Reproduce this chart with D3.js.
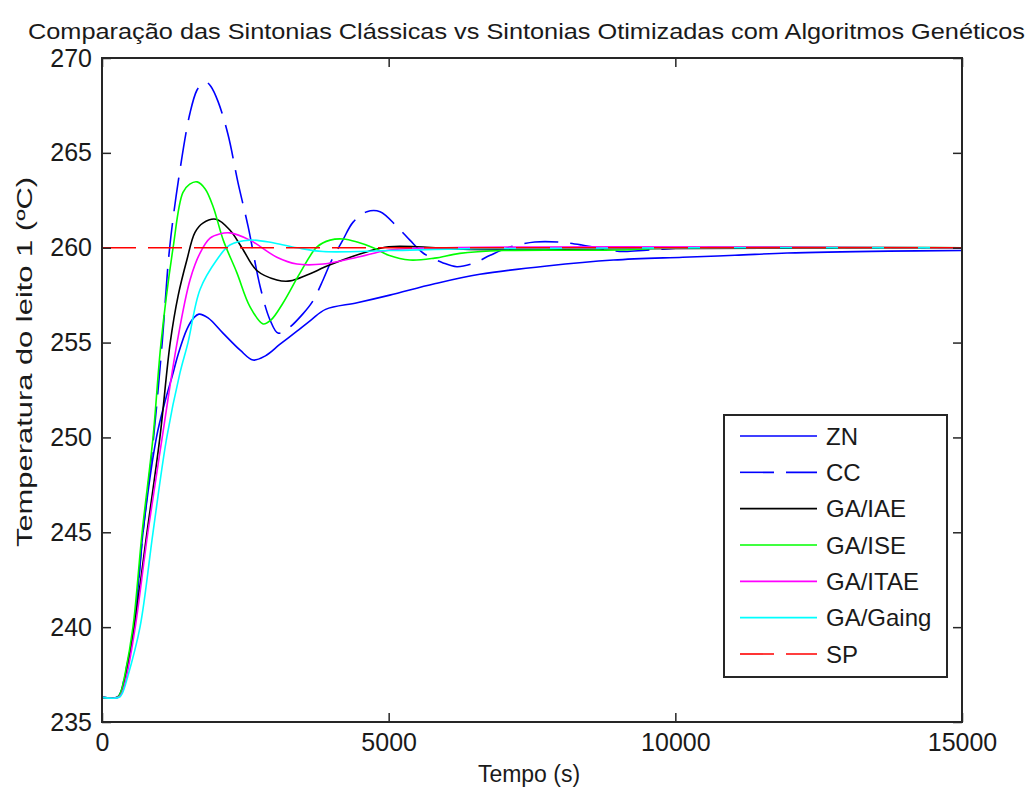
<!DOCTYPE html>
<html>
<head>
<meta charset="utf-8">
<script src="https://cdn.jsdelivr.net/npm/d3@7"></script>
<style>
  body { margin: 0; background: #fff; }
  svg { display: block; }
  text { font-family: "Liberation Sans", Arial, sans-serif; fill: #1a1a1a; }
</style>
</head>
<body>
<script>
// Axis ticks
const xTicks = [0, 5000, 10000, 15000];
const yTicks = [235, 240, 245, 250, 255, 260, 265, 270];

// Step responses: time (s) and bed temperature (°C)
const znTime = [0, 270, 330, 400, 560, 715, 950, 1100, 1240, 1330, 1480, 1600, 1690, 1850, 2110, 2410, 2635, 2850, 3100, 3400, 3650, 3900, 4450, 5020, 5800, 6590, 7760, 8920, 10130, 11040, 11950, 13720, 15000];
const znTemp = [236.3, 236.3, 236.55, 237.4, 240, 245, 250, 251.9, 253.4, 254.4, 255.7, 256.3, 256.5, 256.3, 255.5, 254.6, 254.08, 254.3, 254.9, 255.6, 256.2, 256.75, 257.1, 257.5, 258.1, 258.6, 259.04, 259.35, 259.5, 259.6, 259.72, 259.82, 259.85];

const ccTime = [0, 270, 330, 400, 560, 715, 900, 1050, 1180, 1360, 1535, 1655, 1750, 1830, 1900, 2025, 2200, 2370, 2550, 2760, 2930, 3070, 3250, 3500, 3680, 3855, 4000, 4200, 4380, 4620, 4850, 5150, 5370, 5600, 5950, 6190, 6500, 6770, 7120, 7550, 7950, 8370, 8800, 9090, 9500, 10200, 11000, 15000];
const ccTemp = [236.3, 236.3, 236.6, 237.5, 240, 245, 250, 255, 260, 264.1, 267.1, 268.3, 268.65, 268.7, 268.5, 267.7, 265.94, 263.46, 261.1, 257.93, 256.2, 255.5, 255.75, 256.5, 257.2, 258.3, 259.3, 260.4, 261.35, 261.9, 261.9, 261.1, 260.4, 259.72, 259.2, 259.0, 259.2, 259.6, 260.04, 260.3, 260.3, 260.14, 259.9, 259.8, 259.87, 260.0, 260.0, 260.0];

const iaeTime = [0, 270, 330, 400, 560, 785, 1010, 1190, 1330, 1480, 1620, 1760, 1990, 2230, 2440, 2700, 3050, 3280, 3575, 3980, 4670, 5000, 5500, 6000, 7000, 9000, 15000];
const iaeTemp = [236.3, 236.3, 236.55, 237.3, 240, 245, 250, 255, 257.5, 259.35, 260.8, 261.3, 261.5, 260.93, 260, 258.8, 258.3, 258.25, 258.56, 259.1, 259.83, 260.05, 260.05, 259.95, 259.9, 259.95, 260];

const iseTime = [0, 270, 330, 400, 540, 700, 890, 1030, 1240, 1410, 1530, 1660, 1800, 1940, 2115, 2350, 2580, 2810, 2950, 3160, 3455, 3750, 3980, 4205, 4450, 4730, 5000, 5370, 5800, 6240, 7000, 9000, 10000, 15000];
const iseTemp = [236.3, 236.3, 236.6, 237.5, 240, 245, 250, 255, 260, 262.9, 263.35, 263.47, 263.1, 262.15, 260.4, 258.7, 256.9, 255.98, 256.2, 257.1, 258.67, 260.04, 260.4, 260.46, 260.3, 260.0, 259.6, 259.35, 259.45, 259.7, 259.85, 259.88, 260, 260];

const itaeTime = [0, 290, 350, 420, 580, 800, 1050, 1310, 1535, 1710, 1885, 2050, 2230, 2580, 3050, 3400, 3860, 4450, 5020, 6000, 15000];
const itaeTemp = [236.3, 236.3, 236.55, 237.3, 240, 245, 250, 255, 258.3, 259.72, 260.5, 260.72, 260.78, 260.4, 259.5, 259.14, 259.14, 259.5, 259.88, 260, 260];

const gaingTime = [0, 300, 360, 440, 663, 890, 1130, 1360, 1500, 1710, 2000, 2230, 2580, 3000, 3400, 3855, 5020, 6500, 15000];
const gaingTemp = [236.3, 236.3, 236.55, 237.3, 240, 245, 250, 253.4, 255, 257.8, 259.35, 260.14, 260.4, 260.25, 260.0, 259.8, 259.85, 259.95, 260];

const spTime = [0, 15000];
const spTemp = [260, 260];

const seriesNames = ["ZN", "CC", "GA/IAE", "GA/ISE", "GA/ITAE", "GA/Gaing", "SP"];
const seriesColors = ["#0000ff", "#0000ff", "#000000", "#00ff00", "#ff00ff", "#00ffff", "#ff0000"];
const seriesDashed = [false, true, false, false, false, false, true];
const seriesTimes = [znTime, ccTime, iaeTime, iseTime, itaeTime, gaingTime, spTime];
const seriesTemps = [znTemp, ccTemp, iaeTemp, iseTemp, itaeTemp, gaingTemp, spTemp];

const W = 1030, H = 790;
const m = { left: 102, right: 962, top: 58, bottom: 722 };

const svg = d3.select("body").append("svg").attr("width", W).attr("height", H);

const x = d3.scaleLinear().domain([0, 15000]).range([m.left, m.right]);
const y = d3.scaleLinear().domain([235, 270]).range([m.bottom, m.top]);

const dash = "34,12";
const lw = 1.6;

// Curves
const line = d3.line().x(d => x(d[0])).y(d => y(d[1])).curve(d3.curveCatmullRom.alpha(0.5));
const plot = svg.append("g");
seriesNames.forEach((name, i) => {
  const pts = seriesTimes[i].map((t, k) => [t, seriesTemps[i][k]]);
  plot.append("path")
    .datum(pts)
    .attr("d", line)
    .attr("fill", "none")
    .attr("stroke", seriesColors[i])
    .attr("stroke-width", lw)
    .attr("stroke-dasharray", seriesDashed[i] ? dash : null);
});

// Axes (ticks pointing inward on all four sides)
const tickLen = 9;
const axisColor = "#262626";
const axBottom = svg.append("g").attr("transform", `translate(0,${m.bottom})`)
  .call(d3.axisBottom(x).tickValues(xTicks).tickFormat(d3.format("d")).tickSizeInner(-tickLen).tickSizeOuter(0));
const axTop = svg.append("g").attr("transform", `translate(0,${m.top})`)
  .call(d3.axisTop(x).tickValues(xTicks).tickSizeInner(-tickLen).tickSizeOuter(0).tickFormat(""));
const axLeft = svg.append("g").attr("transform", `translate(${m.left},0)`)
  .call(d3.axisLeft(y).tickValues(yTicks).tickFormat(d3.format("d")).tickSizeInner(-tickLen).tickSizeOuter(0));
const axRight = svg.append("g").attr("transform", `translate(${m.right},0)`)
  .call(d3.axisRight(y).tickValues(yTicks).tickSizeInner(-tickLen).tickSizeOuter(0).tickFormat(""));

[axBottom, axTop, axLeft, axRight].forEach(g => {
  g.select(".domain").remove();
  g.selectAll(".tick line").attr("stroke", axisColor).attr("stroke-width", 1.5);
  g.selectAll(".tick text")
    .attr("font-family", "'Liberation Sans', Arial, sans-serif")
    .attr("font-size", 25)
    .attr("fill", "#1a1a1a");
});
axBottom.selectAll(".tick text").attr("dy", "0.71em").attr("y", 11);
axLeft.selectAll(".tick text").attr("x", -10);

svg.append("rect")
  .attr("x", m.left).attr("y", m.top)
  .attr("width", m.right - m.left).attr("height", m.bottom - m.top)
  .attr("fill", "none").attr("stroke", axisColor).attr("stroke-width", 2);

// Titles
svg.append("text")
  .attr("x", 28).attr("y", 39)
  .attr("font-size", 22)
  .attr("textLength", 997).attr("lengthAdjust", "spacingAndGlyphs")
  .text("Comparação das Sintonias Clássicas vs Sintonias Otimizadas com Algoritmos Genéticos");

svg.append("text")
  .attr("x", 529).attr("y", 782)
  .attr("text-anchor", "middle")
  .attr("font-size", 23)
  .text("Tempo (s)");

svg.append("text")
  .attr("transform", "translate(32,362) rotate(-90)")
  .attr("text-anchor", "middle")
  .attr("font-size", 22)
  .attr("textLength", 370).attr("lengthAdjust", "spacingAndGlyphs")
  .text("Temperatura do leito 1 (ºC)");

// Legend
const lg = svg.append("g");
lg.append("rect")
  .attr("x", 724).attr("y", 415).attr("width", 223).attr("height", 262)
  .attr("fill", "#fff").attr("stroke", axisColor).attr("stroke-width", 2);
const rowY = d3.scaleLinear().domain([0, seriesNames.length - 1]).range([436, 654]);
seriesNames.forEach((name, i) => {
  const yy = rowY(i);
  lg.append("line")
    .attr("x1", 740).attr("x2", 817).attr("y1", yy).attr("y2", yy)
    .attr("stroke", seriesColors[i]).attr("stroke-width", lw)
    .attr("stroke-dasharray", seriesDashed[i] ? dash : null);
  lg.append("text")
    .attr("x", 826).attr("y", yy + 8.5)
    .attr("font-size", 24)
    .text(name);
});
</script>
</body>
</html>
